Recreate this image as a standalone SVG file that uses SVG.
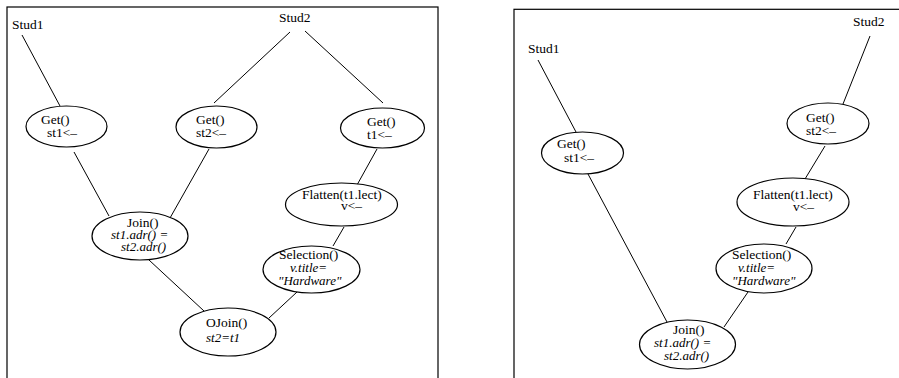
<svg xmlns="http://www.w3.org/2000/svg" width="899" height="378" viewBox="0 0 899 378">
<style>
.frame{fill:none;stroke:#000;stroke-width:1.2}
.node ellipse{fill:#fff;stroke:#000;stroke-width:1.2}
.edges line{stroke:#000;stroke-width:1}
text{font-family:"Liberation Serif","Times New Roman",serif;font-size:13.5px;fill:#000}
.it{font-style:italic;font-size:13px}
</style>
<rect width="899" height="378" fill="#fff"/>
<rect class="frame" x="7" y="7" width="431" height="380"/>
<rect class="frame" x="514" y="9.3" width="400" height="380"/>
<g class="edges" id="edges-left">
<line x1="22" y1="35" x2="60" y2="106"/>
<line x1="290" y1="32" x2="214" y2="103"/>
<line x1="305" y1="31" x2="383" y2="103"/>
<line x1="74" y1="152" x2="109" y2="216"/>
<line x1="209" y1="149" x2="170" y2="218"/>
<line x1="377" y1="149" x2="357" y2="185"/>
<line x1="344" y1="227" x2="333" y2="246"/>
<line x1="149" y1="260" x2="204" y2="311"/>
<line x1="297" y1="292" x2="269" y2="318"/>
</g>
<g class="edges" id="edges-right">
<line x1="538" y1="60" x2="576" y2="132"/>
<line x1="870" y1="36" x2="843" y2="104"/>
<line x1="825" y1="146" x2="805" y2="179"/>
<line x1="796" y1="227" x2="786" y2="244"/>
<line x1="588" y1="174" x2="667" y2="322"/>
<line x1="748" y1="292" x2="724" y2="327"/>
</g>
<g id="L-stud1"><text x="12" y="29">Stud1</text></g>
<g id="L-stud2"><text x="279" y="22">Stud2</text></g>
<g class="node" id="L-get1"><ellipse cx="66.5" cy="126.5" rx="40.5" ry="20.5"/><text x="41" y="124">Get()</text><text x="47" y="137">st1&lt;–</text></g>
<g class="node" id="L-get2"><ellipse cx="216.5" cy="127" rx="40.5" ry="21"/><text x="196" y="124">Get()</text><text x="196" y="137">st2&lt;–</text></g>
<g class="node" id="L-get3"><ellipse cx="382.5" cy="128" rx="42" ry="20"/><text x="367" y="126">Get()</text><text x="367" y="139">t1&lt;–</text></g>
<g class="node" id="L-flatten"><ellipse cx="341.5" cy="204.5" rx="56" ry="21.5"/><text x="302" y="199">Flatten(t1.lect)</text><text x="341" y="210">v&lt;–</text></g>
<g class="node" id="L-selection"><ellipse cx="311.5" cy="269.5" rx="48.5" ry="23.5"/><text x="279" y="259">Selection()</text><text class="it" x="290" y="272">v.title=</text><text class="it" x="278" y="285">"Hardware"</text></g>
<g class="node" id="L-join"><ellipse cx="140" cy="236" rx="48" ry="24"/><text x="127" y="227">Join()</text><text class="it" x="111" y="239">st1.adr() =</text><text class="it" x="121" y="251">st2.adr()</text></g>
<g class="node" id="L-ojoin"><ellipse cx="228" cy="332" rx="48" ry="24"/><text x="206" y="327">OJoin()</text><text class="it" x="206" y="342">st2=t1</text></g>
<g id="R-stud1"><text x="528" y="53">Stud1</text></g>
<g id="R-stud2"><text x="853" y="26">Stud2</text></g>
<g class="node" id="R-get1"><ellipse cx="582.5" cy="153" rx="41" ry="21"/><text x="557" y="148">Get()</text><text x="564" y="162">st1&lt;–</text></g>
<g class="node" id="R-get2"><ellipse cx="828" cy="123.5" rx="41" ry="20.5"/><text x="806" y="122">Get()</text><text x="806" y="135">st2&lt;–</text></g>
<g class="node" id="R-flatten"><ellipse cx="793" cy="202" rx="56" ry="24"/><text x="753" y="199">Flatten(t1.lect)</text><text x="793" y="211">v&lt;–</text></g>
<g class="node" id="R-selection"><ellipse cx="764" cy="268.5" rx="48" ry="24.5"/><text x="732" y="259">Selection()</text><text class="it" x="738" y="272">v.title=</text><text class="it" x="732" y="285">"Hardware"</text></g>
<g class="node" id="R-join"><ellipse cx="687.5" cy="344.5" rx="48" ry="24.5"/><text x="673" y="334">Join()</text><text class="it" x="654" y="347">st1.adr() =</text><text class="it" x="664" y="360">st2.adr()</text></g>
</svg>
